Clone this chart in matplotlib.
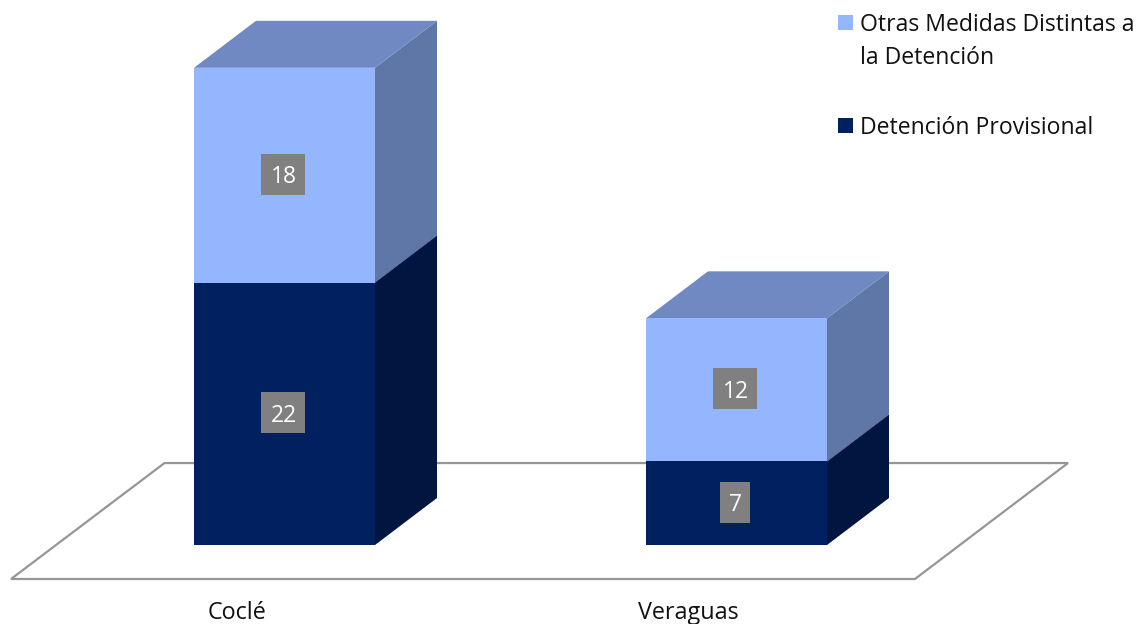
import matplotlib.pyplot as plt
from matplotlib.patches import Polygon, Rectangle

plt.rcParams["font.family"] = ["Open Sans", "DejaVu Sans"]

categories = ["Coclé", "Veraguas"]
detencion = [22, 7]
otras = [18, 12]
series_names = ["Detención Provisional", "Otras Medidas Distintas a\nla Detención"]

FRONT = ["#002060", "#94B6FF"]
SIDE = ["#00153F", "#5F77A6"]
TOP = ["#001A4D", "#7089C2"]
FLOOR = "#969696"

W, H = 1138, 624
PX_X = 452.0  # pixels between categories
PX_Y = 11.93  # pixels per unit
X0, Y0 = 284.5, 545.0

BAR_W = 181 / PX_X
DEPTH_X = 62 / PX_X
DEPTH_Y = 47 / PX_Y


def draw_segment(ax, x, bottom, height, idx, zorder):
    left, right = x - BAR_W / 2, x + BAR_W / 2
    top = bottom + height
    ax.add_patch(Rectangle((left, bottom), BAR_W, height, fc=FRONT[idx], ec="none", zorder=zorder + 1))
    ax.add_patch(Polygon(
        [(right, bottom), (right + DEPTH_X, bottom + DEPTH_Y), (right + DEPTH_X, top + DEPTH_Y), (right, top)],
        fc=SIDE[idx], ec="none", zorder=zorder,
    ))
    ax.add_patch(Polygon(
        [(left, top), (left + DEPTH_X, top + DEPTH_Y), (right + DEPTH_X, top + DEPTH_Y), (right, top)],
        fc=TOP[idx], ec="none", zorder=zorder,
    ))


def data_label(ax, x, y, value):
    # grey box is 44 px wide for two digits, 30 px for one
    box_w = (44 if value >= 10 else 30) / PX_X
    box_h = 41 / PX_Y
    cx = x - 2 / PX_X
    cy = y + 1 / PX_Y
    ax.add_patch(Rectangle((cx - box_w / 2, cy - box_h / 2), box_w, box_h, fc="#808080", ec="none", zorder=9))
    ax.text(cx + 1 / PX_X, cy, str(value), color="white", fontsize=16.5, ha="center", va="center_baseline", zorder=10)


fig = plt.figure(figsize=(W / 100, H / 100), dpi=100)
ax = fig.add_axes([0, 0, 1, 1])
ax.set_xlim(-X0 / PX_X, (W - X0) / PX_X)
ax.set_ylim((Y0 - H) / PX_Y, Y0 / PX_Y)
ax.axis("off")

# floor of the 3d chart
floor_x = [-0.6050, -0.2655, 1.7334, 1.3948]
floor_y = [-2.85, 6.87, 6.87, -2.85]
ax.add_patch(Polygon(list(zip(floor_x, floor_y)), closed=True, fc="white", ec=FLOOR, lw=1.6, zorder=1))

for i, name in enumerate(categories):
    draw_segment(ax, i, 0, detencion[i], 0, 3)
    draw_segment(ax, i, detencion[i], otras[i], 1, 3)
    data_label(ax, i, detencion[i] / 2, detencion[i])
    data_label(ax, i, detencion[i] + otras[i] / 2, otras[i])
    ax.text(i - 0.106, -5.72, name, fontsize=16.8, ha="center", va="center", color="#111111")

# legend, placed by hand in pixel positions
to_frac = lambda px, py: (px / W, 1 - py / H)
for name, col, sq_y, txt_y in [
    (series_names[1], FRONT[1], 30, 41.5),
    (series_names[0], FRONT[0], 133, 128),
]:
    fx, fy = to_frac(838, sq_y)
    fig.patches.append(Rectangle((fx, fy), 15 / W, 15 / H, transform=fig.transFigure, fc=col, ec="none"))
    tx, ty = to_frac(860, txt_y)
    fig.text(tx, ty, name, fontsize=16.6, ha="left", va="center", color="#111111", linespacing=1.5)

fig.savefig("out.png", dpi=100)
plt.close(fig)
